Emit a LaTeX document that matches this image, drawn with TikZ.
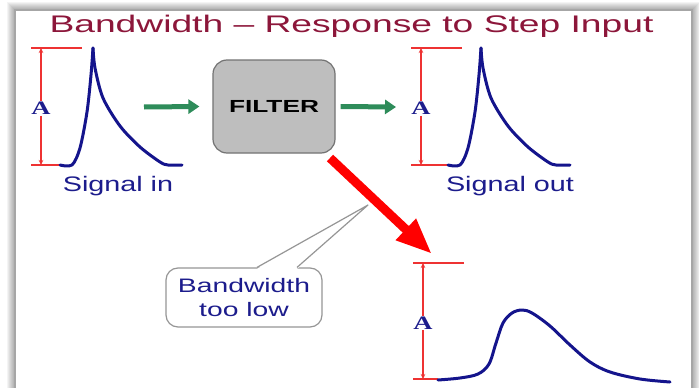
\documentclass[tikz,border=0pt]{standalone}
\usepackage{fontspec}
\setmainfont{Liberation Sans}
\newfontfamily\titlefont[FakeStretch=1.55]{Liberation Sans}
\newfontfamily\bluefont[FakeStretch=1.37]{Liberation Sans}
\newfontfamily\callfont[FakeStretch=1.45]{Liberation Sans}
\newfontfamily\filterfont[FakeStretch=1.5]{Liberation Sans}
\newfontfamily\afont[FakeStretch=1.4]{Liberation Serif}
\usetikzlibrary{arrows.meta}
\definecolor{titlered}{RGB}{140,22,58}
\definecolor{navy}{RGB}{28,28,140}
\definecolor{sigblue}{RGB}{20,20,140}
\definecolor{dimred}{RGB}{238,50,50}
\definecolor{agreen}{RGB}{46,140,90}
\definecolor{boxgray}{RGB}{190,190,190}
\definecolor{boxedge}{RGB}{115,115,115}
\definecolor{callgray}{RGB}{150,150,150}
\tikzset{
  sig/.style={draw=sigblue, line width=3pt, line cap=round, line join=round},
  dimline/.style={draw=dimred, line width=1.2pt},
  alabel/.style={fill=white, inner sep=1pt, text=navy, font=\afont\bfseries\fontsize{19}{21}\selectfont},
  bluetext/.style={text=navy, inner sep=0pt, font=\bluefont\fontsize{21}{24}\selectfont},
  garrow/.style={draw=agreen, line width=5pt, -{Triangle[length=11pt,width=14pt]}},
  redarrow/.style={draw=red, fill=red, line width=9pt, -{Triangle[length=36pt,width=27pt]}},
  filterbox/.style={draw=boxedge, fill=boxgray, line width=1.2pt, rounded corners=14pt,
    minimum width=122pt, minimum height=93pt, font=\filterfont\bfseries\fontsize{17.5}{19}\selectfont},
  callbox/.style={draw=callgray, fill=white, line width=1.2pt, rounded corners=12pt,
    minimum width=156pt, minimum height=59pt, align=center, text=navy, inner sep=0pt,
    font=\callfont\fontsize{19.5}{24}\selectfont},
}
\newcommand\dimA[5]{%
  \draw[dimline] (#2-10,#3) -- (#2+41,#3);
  \draw[dimline] (#2-10,#4) -- (#5,#4);
  \node[alabel] (#1) at (#2,{(#3+#4)/2+2}) {A};
  \draw[dimline,{Stealth[length=5pt,width=4.5pt]}-] (#2,#3) -- (#1.north);
  \draw[dimline,-{Stealth[length=5pt,width=4.5pt]}] (#1.south) -- (#2,#4);
}
\newcommand\spike{%
  \draw[sig] plot[smooth,tension=0.5] coordinates {(60,165)(72,165)(80,148)(87,112)(91,75)(93,48)};
  \draw[sig] plot[smooth,tension=0.5] coordinates {(93,48)(95,68)(103,98)(120,126)(140,147)(160,162)(168,165)(182,165)};
}
\begin{document}
\begin{tikzpicture}[x=1pt,y=-1pt]
\useasboundingbox (0,0) rectangle (699,388);
\fill[white] (0,0) rectangle (699,388);
% shadow
\foreach \i in {1,...,8} {
  \fill[black,opacity=0.045] (15-\i,10-\i) rectangle (692+\i,400);
}
\fill[white] (15,10) rectangle (692,400);
\draw[black!35, line width=1.2pt] (15,400) -- (15,10) -- (692,10) -- (692,400);

% title
\node[anchor=base, text=titlered, inner sep=0pt, font=\titlefont\fontsize{24}{28}\selectfont] (title) at (351.5,32) {Bandwidth – Response to Step Input};

% input signal
\dimA{ain}{41}{48}{165}{60}
\spike
\node[bluetext, anchor=base] (sigin) at (118,191) {Signal in};

% filter
\node[filterbox] (filter) at (274,106.5) {FILTER};

% output signal
\dimA{aout}{421}{48}{165}{447}
\begin{scope}[xshift=388pt]
\spike
\end{scope}
\node[bluetext, anchor=base] (sigout) at (510,191) {Signal out};

% green arrows
\coordinate (g1s) at (144,107);
\coordinate (g2e) at (396,107);
\draw[garrow] (g1s) -- ([xshift=-13pt]filter.west);
\draw[garrow] ([xshift=5pt]filter.east) -- (g2e);

% red arrow
\coordinate (rtail) at (330,158);
\coordinate (rtip) at (432,254);
\draw[redarrow] (rtail) -- (rtip);

% low bandwidth response
\dimA{alow}{423}{263}{379}{438}
\draw[sig] plot[smooth,tension=0.55] coordinates {(438,380)(460,378)(478,374)(489,364)(496,343)(503,323)(512,313)(522,310)(532,313)(550,326)(570,345)(590,362)(610,372)(640,379)(670,382)};

% callout
\node[callbox] (bw) at (244,297.5) {Bandwidth\\too low};
\coordinate (ctip) at (368,205);
\fill[white] ([xshift=13pt,yshift=-1.5pt]bw.north) -- (ctip) -- ([xshift=53pt,yshift=-1.5pt]bw.north) -- cycle;
\draw[callgray, line width=1.2pt, line join=round] ([xshift=13pt]bw.north) -- (ctip) -- ([xshift=53pt]bw.north);
\end{tikzpicture}
\end{document}
